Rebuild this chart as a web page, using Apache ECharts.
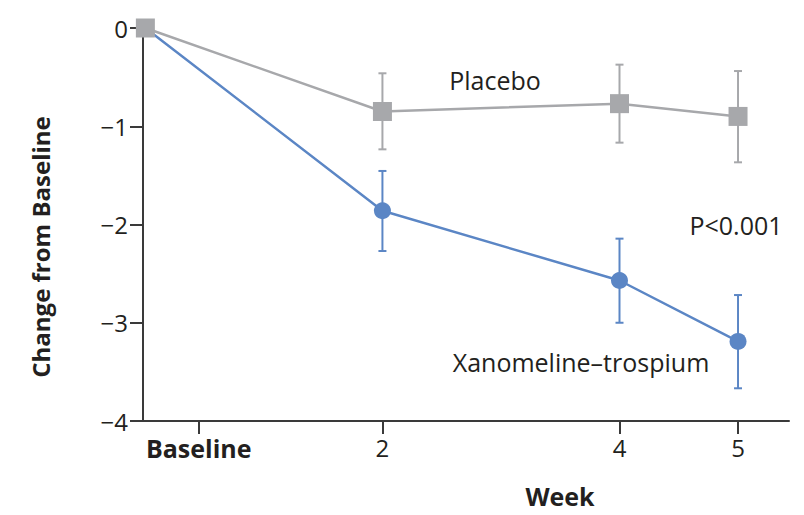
<!DOCTYPE html>
<html><head><meta charset="utf-8">
<script src="https://cdn.jsdelivr.net/npm/echarts@6/dist/echarts.min.js"></script>
<style>html,body{margin:0;padding:0;background:#fff}#c{width:804px;height:515px}</style>
</head><body><div id="c"></div>
<script>
// ---- data ----
var weeks = [0, 2, 4, 5];
var placeboMean = [0, -0.85, -0.77, -0.90];
var placeboLow  = [null, -1.235, -1.167, -1.367];
var placeboHigh = [null, -0.461, -0.373, -0.438];
var xanoMean = [0, -1.86, -2.57, -3.19];
var xanoLow  = [null, -2.27, -3.00, -3.667];
var xanoHigh = [null, -1.455, -2.144, -2.718];
var xTickValues = [0.45, 2, 4, 5];
var xTickLabels = ['Baseline', '2', '4', '5'];
var yTicks = [0, -1, -2, -3, -4];

var GRAY = '#a7a8ab', BLUE = '#5b86c5', INK = '#231f20';
var FONT = '"Open Sans", "Noto Sans", sans-serif';

function pts(xs, ys){ return xs.map(function(x,i){ return [x, ys[i]]; }); }
function bars(xs, lo, hi){
  var out = [];
  xs.forEach(function(x,i){ if (lo[i] != null) out.push([x, lo[i], hi[i]]); });
  return out;
}
function errRender(color){
  return function(params, api){
    var x = api.value(0);
    var a = api.coord([x, api.value(1)]);
    var b = api.coord([x, api.value(2)]);
    var w = 4;
    var st = {stroke: color, lineWidth: 2};
    return {type:'group', children:[
      {type:'line', shape:{x1:a[0], y1:a[1], x2:b[0], y2:b[1]}, style:st},
      {type:'line', shape:{x1:a[0]-w, y1:a[1], x2:a[0]+w, y2:a[1]}, style:st},
      {type:'line', shape:{x1:b[0]-w, y1:b[1], x2:b[0]+w, y2:b[1]}, style:st}
    ]};
  };
}

var chart = echarts.init(document.getElementById('c'), null, {renderer:'svg'});
chart.setOption({
  animation: false,
  backgroundColor: '#fff',
  grid: {left: 143, right: 15, top: 28, bottom: 94, containLabel: false},
  xAxis: {
    type: 'value', min: -0.02, max: 5.43,
    splitLine: {show: false},
    axisLine: {onZero: false, lineStyle: {color: '#3a3a3a', width: 2}},
    axisTick: {show: true, length: 13, lineStyle: {color: '#3a3a3a', width: 2}, customValues: xTickValues},
    axisLabel: {
      customValues: xTickValues, color: INK, fontFamily: FONT, fontSize: 24, margin: 14,
      formatter: function(v){
        var i = xTickValues.indexOf(v);
        return i === 0 ? '{b|' + xTickLabels[i] + '}' : (i >= 0 ? xTickLabels[i] : '');
      },
      rich: {b: {fontWeight: 'bold', fontSize: 25, fontFamily: FONT, color: INK}}
    }
  },
  yAxis: {
    type: 'value', min: -4, max: 0, interval: 1,
    splitLine: {show: false},
    axisLine: {show: true, onZero: false, lineStyle: {color: '#3a3a3a', width: 2}},
    axisTick: {show: true, length: 13, lineStyle: {color: '#3a3a3a', width: 2}},
    axisLabel: {
      color: INK, fontFamily: FONT, fontSize: 24, margin: 15,
      formatter: function(v){ return v < 0 ? '\u2212' + Math.abs(v) : String(v); }
    }
  },
  graphic: [
    {type:'text', x: 40, y: 247, rotation: Math.PI/2, style:{text:'Change from Baseline', font:'bold 24px "Open Sans", sans-serif', fill: INK, textAlign:'center', textVerticalAlign:'middle'}},
    {type:'text', x: 560, y: 496, style:{text:'Week', font:'bold 25px "Open Sans", sans-serif', fill: INK, textAlign:'center', textVerticalAlign:'middle'}},
    {type:'text', x: 495, y: 80, style:{text:'Placebo', font:'25px "Open Sans", sans-serif', fill: INK, textAlign:'center', textVerticalAlign:'middle'}},
    {type:'text', x: 736, y: 225, style:{text:'P<0.001', font:'25px "Open Sans", sans-serif', fill: INK, textAlign:'center', textVerticalAlign:'middle'}},
    {type:'text', x: 581, y: 362, style:{text:'Xanomeline\u2013trospium', font:'25px "Open Sans", sans-serif', fill: INK, textAlign:'center', textVerticalAlign:'middle'}}
  ],
  series: [
    {type:'custom', name:'Xanomeline err', renderItem: errRender(BLUE), data: bars(weeks, xanoLow, xanoHigh), z: 2},
    {type:'line', name:'Xanomeline\u2013trospium', data: pts(weeks, xanoMean), symbol:'circle', symbolSize: 17,
      lineStyle:{color: BLUE, width: 2.5}, itemStyle:{color: BLUE}, z: 3},
    {type:'custom', name:'Placebo err', renderItem: errRender(GRAY), data: bars(weeks, placeboLow, placeboHigh), z: 4},
    {type:'line', name:'Placebo', data: pts(weeks, placeboMean), symbol:'rect', symbolSize: 19,
      lineStyle:{color: GRAY, width: 2.5}, itemStyle:{color: GRAY}, z: 5}
  ]
});
</script></body></html>
